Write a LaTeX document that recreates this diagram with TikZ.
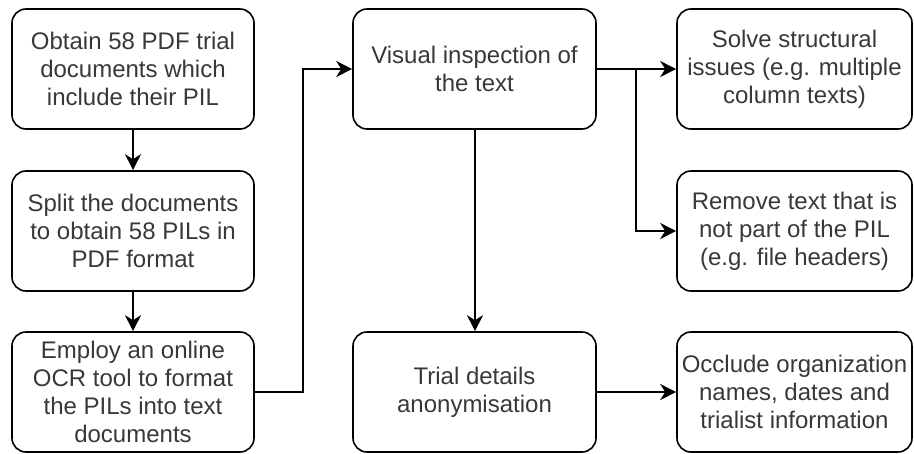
\documentclass[tikz,border=0pt]{standalone}
\usepackage{fontspec}
\setmainfont{Liberation Sans}
\usetikzlibrary{arrows.meta}

\begin{document}
\begin{tikzpicture}[x=1pt,y=1pt,
  stepbox/.style={draw=black, line width=1.6pt, rounded corners=14pt,
    rectangle, align=center, text=black!78, minimum height=120pt,
    inner sep=0pt, font=\fontsize{24}{28}\selectfont},
  wide/.style={stepbox, minimum width=242pt},
  narrow/.style={stepbox, minimum width=235pt},
  arr/.style={draw=black, line width=1.6pt,
    -{Stealth[length=16pt,width=16pt,inset=5pt]}}
]
\useasboundingbox (0,0) rectangle (914,-453);

% left column
\node[wide] (b1) at (133,-69) {Obtain 58 PDF trial\\documents which\\include their PIL};
\node[wide] (b2) at (133,-231) {Split the documents\\to obtain 58 PILs in\\PDF format};
\node[wide] (b3) at (133,-392) {Employ an online\\OCR tool to format\\the PILs into text\\documents};

% middle column
\node[wide, minimum width=243pt] (b4) at (474.5,-69) {Visual inspection of\\the text};
\node[wide, minimum width=243pt] (b5) at (474.5,-392) {Trial details\\anonymisation};

% right column
\node[narrow] (b6) at (794.5,-69) {Solve structural\\issues (e.g. multiple\\column texts)};
\node[narrow] (b7) at (794.5,-231) {Remove text that is\\not part of the PIL\\(e.g. file headers)};
\node[narrow] (b8) at (794.5,-392) {Occlude organization\\names, dates and\\trialist information};

% routing points
\coordinate (j1) at (303,-392);
\coordinate (j2) at (636,-69);

% connectors
\draw[arr] (b1) -- (b2);
\draw[arr] (b2) -- (b3);
\draw[arr] (b3.east) -- (j1) |- (b4.west);
\draw[arr] (b4) -- (b6);
\draw[arr] (j2) |- (b7.west);
\draw[arr] (b4.south -| 475,0) -- (b5.north -| 475,0);
\draw[arr] (b5) -- (b8);
\end{tikzpicture}
\end{document}
